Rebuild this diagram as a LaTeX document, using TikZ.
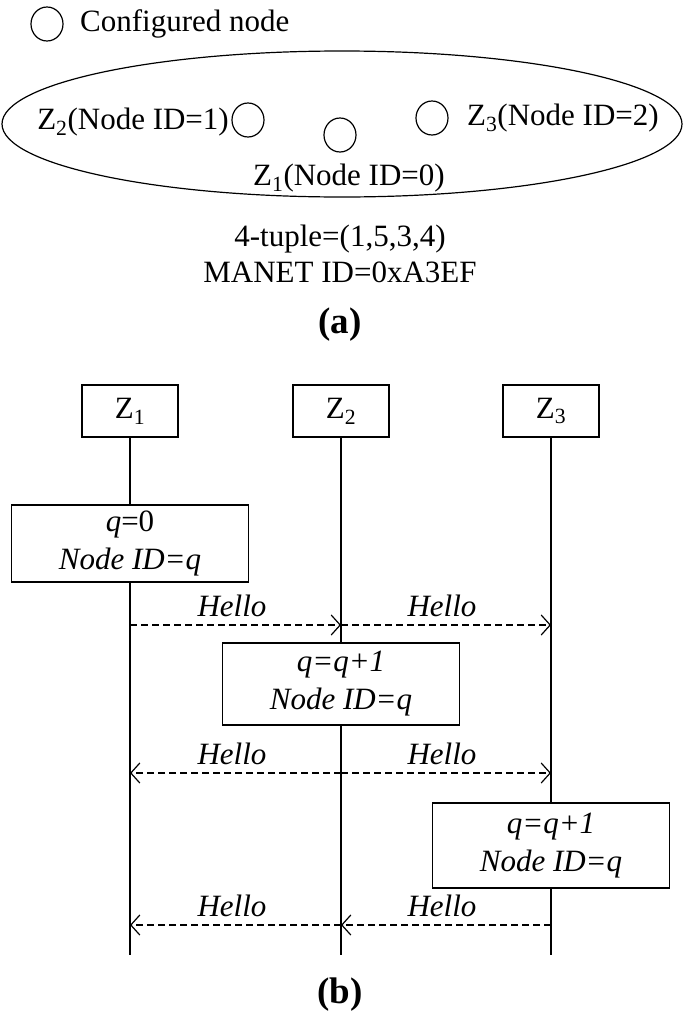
\documentclass[tikz,border=0pt]{standalone}
\usepackage{fontspec}
\setmainfont{Liberation Serif}
\usetikzlibrary{arrows.meta,shapes.geometric}
\begin{document}
\begin{tikzpicture}[x=1pt,y=-1pt,
  every node/.style={font=\fontsize{31}{36}\selectfont, inner sep=0pt},
  circ/.style={draw, line width=1.2pt, ellipse, minimum width=32pt, minimum height=34pt},
  zbox/.style={draw, line width=1.2pt, fill=white, minimum width=96pt, minimum height=52pt},
  qbox/.style={draw, line width=1.2pt, fill=white, minimum width=237pt, align=center, font=\fontsize{31}{38}\selectfont\itshape},
  life/.style={line width=1.2pt},
  msg/.style={line width=1.2pt, dash pattern=on 7pt off 4pt, -{Straight Barb[length=9pt,width=20pt,line width=1.2pt]}},
  lbl/.style={font=\fontsize{31}{36}\selectfont\itshape},
  captext/.style={font=\fontsize{37}{42}\selectfont\bfseries}]
\useasboundingbox (0,0) rectangle (685,1023);
% (a)
\node[circ] (legc) at (47,24) {};
\node[anchor=west] (legt) at (80,24) {Configured node};
\draw[line width=1.2pt] (342,124) ellipse [x radius=340, y radius=73];
\node[circ] (c2) at (248,120) {};
\node[circ] (c1) at (340,135) {};
\node[circ] (c3) at (432,118) {};
\node[anchor=east] (t2) at (229,122) {Z\textsubscript{2}(Node ID=1)};
\node (t1) at (349,178) {Z\textsubscript{1}(Node ID=0)};
\node[anchor=west] (t3) at (467,118) {Z\textsubscript{3}(Node ID=2)};
\node (tup) at (340,239) {4-tuple=(1,5,3,4)};
\node (man) at (340,272) {MANET ID=0xA3EF};
\node[captext] (a) at (340,325) {(a)};
% (b)
\node[zbox] (z1) at (130,411) {Z\textsubscript{1}};
\node[zbox] (z2) at (341,411) {Z\textsubscript{2}};
\node[zbox] (z3) at (551,411) {Z\textsubscript{3}};
\coordinate (e1) at (130,955);
\coordinate (e2) at (341,955);
\coordinate (e3) at (551,955);
\draw[life] (z1.south) -- (e1);
\draw[life] (z2.south) -- (e2);
\draw[life] (z3.south) -- (e3);
\node[qbox, minimum height=77pt] (b1) at (130,543.5) {q\upshape=0\\Node ID=q};
\node[qbox, minimum height=82pt] (b2) at (341,684) {q=q+1\\Node ID=q};
\node[qbox, minimum height=85pt] (b3) at (551,845.5) {q=q+1\\Node ID=q};
% message rows
\coordinate (r1a) at (130,625); \coordinate (r1b) at (341,625); \coordinate (r1c) at (551,625);
\coordinate (r2a) at (130,773); \coordinate (r2b) at (341,773); \coordinate (r2c) at (551,773);
\coordinate (r3a) at (130,925); \coordinate (r3b) at (341,925); \coordinate (r3c) at (551,925);
\draw[msg] (r1a) -- (r1b);
\draw[msg] (r1b) -- (r1c);
\draw[msg] (r2b) -- (r2a);
\draw[msg] (r2b) -- (r2c);
\draw[msg] (r3c) -- (r3b);
\draw[msg] (r3b) -- (r3a);
\node[lbl] (h1) at (232,606) {Hello};
\node[lbl] (h2) at (442,606) {Hello};
\node[lbl] (h3) at (232,754) {Hello};
\node[lbl] (h4) at (442,754) {Hello};
\node[lbl] (h5) at (232,906) {Hello};
\node[lbl] (h6) at (442,906) {Hello};
\node[captext] (b) at (340,995) {(b)};
\end{tikzpicture}
\end{document}
